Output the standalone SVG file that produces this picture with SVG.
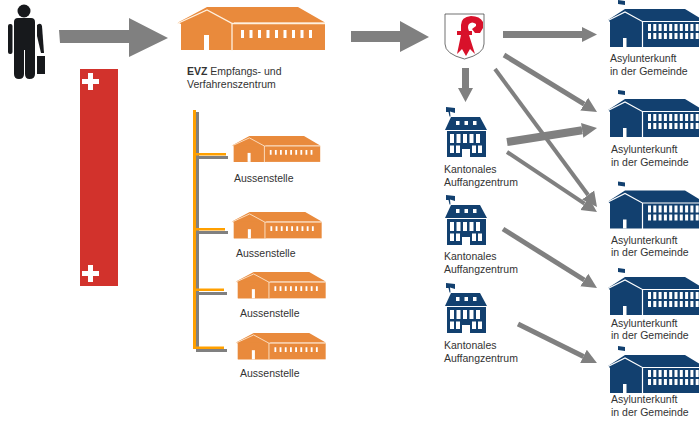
<svg xmlns="http://www.w3.org/2000/svg" width="699" height="422" viewBox="0 0 699 422">
<style>
text{font-family:"Liberation Sans",Arial,sans-serif;font-size:10.500px;fill:#333}
.arrow{fill:#808080}
.ln{stroke:#808080;fill:none;marker-end:url(#head)}
.or{fill:#e98a3c}
.bl{fill:#12406f}
.w{fill:#fff}
.cv{fill:none;stroke:#fff;stroke-width:1.200}
.cvo{fill:none;stroke:#fff1e0;stroke-width:1.300}
</style>
<defs>
<marker id="head" markerUnits="userSpaceOnUse" markerWidth="16" markerHeight="16" refX="0" refY="8" orient="auto"><path d="M0 .5L15 8L0 15.500Z" fill="#808080"/></marker>
<g id="barn">
<path class="or" d="M0 16.500L29 1H120L147 16.500H56V44H3V18Z"/>
<rect class="or" x="3" y="17" width="144" height="27"/>
<path class="cvo" d="M-.5 17.500L29 4L54 17.500V44.500M54 17.500H147"/>
<rect class="w" x="26" y="29" width="5" height="15"/>
<path class="w" d="M63 24h3v8h-3zM71.500 24h3v8h-3zM80 24h3v8h-3zM88.500 24h3v8h-3zM97 24h3v8h-3zM105.500 24h3v8h-3zM114 24h3v8h-3zM122.500 24h3v8h-3zM131 24h3v8h-3z"/>
</g>
<g id="asyl">
<path class="bl" d="M10 -9L17 -8V-4L10 -5Z"/>
<path class="bl" d="M0 11L17 0H77L95 11V38H2V13Z"/>
<path class="cv" d="M-1 12L17 3L34.500 12.500V38.500M34.500 12.500H100"/>
<rect class="w" x="15" y="29" width="3.500" height="9"/>
<path class="w" d="M40 15h3v7h-3zM45.300 15h3v7h-3zM50.600 15h3v7h-3zM55.900 15h3v7h-3zM61.200 15h3v7h-3zM66.500 15h3v7h-3zM71.800 15h3v7h-3zM77.100 15h3v7h-3zM82.400 15h3v7h-3zM87.700 15h3v7h-3zM40 24h3v6h-3zM45.300 24h3v6h-3zM50.600 24h3v6h-3zM55.900 24h3v6h-3zM61.200 24h3v6h-3zM66.500 24h3v6h-3zM71.800 24h3v6h-3zM77.100 24h3v6h-3zM82.400 24h3v6h-3zM87.700 24h3v6h-3z"/>
</g>
<g id="kant">
<path class="bl" d="M1 -10L10 -9V-4L5 -5.500L5.500 -.5H4.500L3.500 -5L1 -5Z"/>
<path class="bl" d="M6 0H35L42 13H0Z"/>
<rect class="bl" x="2" y="14" width="39" height="26"/>
<path class="w" d="M11 4h3.500v4h-3.500zM19.500 4h3.500v4h-3.500zM28 4h3.500v4h-3.500z"/>
<path class="w" d="M5 17h4v9h-4zM11.500 17h4v9h-4zM18 17h4v9h-4zM24.500 17h4v9h-4zM31 17h4v9h-4z"/>
<path class="w" d="M5 28.500h4v7.500h-4zM11 28.500h4v7.500h-4zM27 28.500h4v7.500h-4zM33 28.500h4v7.500h-4z"/>
<path class="w" d="M17 32h8v8h-8z"/>
</g>
</defs>
<rect width="699" height="422" fill="#fff"/>

<g id="connectors">
<path class="arrow" d="M59 30H129V18L168 38L129 57V43H60Z"/>
<path class="arrow" d="M351 31H400V21L429 37L400 52V42H351Z"/>
<path class="arrow" d="M462 68H469V88H473L465.500 102L458 88H462Z"/>
<line class="ln" x1="503" y1="34.500" x2="582" y2="34.500" stroke-width="7"/>
<line class="ln" x1="504" y1="55" x2="584.200" y2="104.200" stroke-width="5"/>
<line class="ln" x1="495" y1="69" x2="588.100" y2="195" stroke-width="4"/>
<line class="ln" x1="507" y1="142" x2="582.200" y2="130.300" stroke-width="8"/>
<line class="ln" x1="507" y1="152" x2="584.500" y2="203.700" stroke-width="4"/>
<line class="ln" x1="503" y1="229" x2="584.300" y2="280" stroke-width="5"/>
<line class="ln" x1="518" y1="324" x2="583.500" y2="356.400" stroke-width="5"/>
<g id="bracket">
<rect fill="#808080" x="196" y="112" width="3" height="239"/>
<rect fill="#808080" x="196" y="156" width="32" height="3"/>
<rect fill="#808080" x="196" y="231" width="32" height="3"/>
<rect fill="#808080" x="196" y="292" width="31" height="3"/>
<rect fill="#808080" x="196" y="349" width="31" height="3"/>
<rect fill="#ffa000" x="193" y="110" width="3" height="239"/>
<rect fill="#ffa000" x="193" y="153" width="33" height="2.500"/>
<rect fill="#ffa000" x="193" y="228" width="32" height="2.500"/>
<rect fill="#ffa000" x="193" y="288.500" width="31" height="2.500"/>
<rect fill="#ffa000" x="193" y="346.500" width="31" height="2.500"/>
</g>
</g>

<g id="person" fill="#17191c">
<circle cx="24" cy="11" r="6.500"/>
<path d="M14 22Q14 18 18 18H31Q35 18 35 22V74Q35 79 29.500 79Q25 79 25 74V50H24V74Q24 79 19 79Q14 79 14 74Z"/>
<rect x="8" y="24" width="4.500" height="30" rx="2"/>
<path d="M37 25Q41 22 42 26L44 53H41L37 36Z"/>
<rect x="37" y="56" width="8" height="18"/>
</g>

<g id="swiss">
<rect x="80" y="69" width="38" height="217" fill="#d2322c"/>
<path class="w" d="M88 73h5v6h6v5h-6v6h-5v-6h-6v-5h6z"/>
<path class="w" d="M88 265h5v6h6v5h-6v6h-5v-6h-6v-5h6z"/>
</g>

<g id="evz">
<use href="#barn" x="178" y="6"/>
<text x="187" y="75"><tspan font-weight="bold">EVZ</tspan> Empfangs- und</text>
<text x="187" y="88">Verfahrenszentrum</text>
</g>
<g id="aussen1"><use href="#barn" transform="translate(232 135.500) scale(.6)"/><text x="234" y="182">Aussenstelle</text></g>
<g id="aussen2"><use href="#barn" transform="translate(232 211.500) scale(.61)"/><text x="236" y="257">Aussenstelle</text></g>
<g id="aussen3"><use href="#barn" transform="translate(236 271.500) scale(.61)"/><text x="240" y="317">Aussenstelle</text></g>
<g id="aussen4"><use href="#barn" transform="translate(236 332.500) scale(.61)"/><text x="240" y="377">Aussenstelle</text></g>

<g id="wappen">
<path d="M445 14H484V44Q484 54 464.500 59Q445 54 445 44Z" fill="#fff" stroke="#333" stroke-width=".7"/>
<path fill="#d8112a" d="M461 31L461 25Q461 17 471 16Q480 16 483 22L483 28L480 33L475 33L472 29L476 26L476 24Q472 21 469 24Q467 27 469 31H472V35H469L475 54L470 49L466 56L462 49L457 54L461 35H457V31Z"/>
</g>

<g id="kant1"><use href="#kant" x="445" y="117"/><text x="444" y="173">Kantonales</text><text x="444" y="186">Auffangzentrum</text></g>
<g id="kant2"><use href="#kant" x="445" y="205"/><text x="444" y="260">Kantonales</text><text x="444" y="273">Auffangzentrum</text></g>
<g id="kant3"><use href="#kant" x="445" y="293"/><text x="444" y="349">Kantonales</text><text x="444" y="362">Auffangzentrum</text></g>

<g id="asyl1"><use href="#asyl" x="608" y="9"/><text x="610" y="62">Asylunterkunft</text><text x="610" y="75">in der Gemeinde</text></g>
<g id="asyl2"><use href="#asyl" x="608" y="99"/><text x="611" y="153">Asylunterkunft</text><text x="611" y="166">in der Gemeinde</text></g>
<g id="asyl3"><use href="#asyl" x="608" y="190.500"/><text x="611" y="244">Asylunterkunft</text><text x="611" y="256">in der Gemeinde</text></g>
<g id="asyl4"><use href="#asyl" x="608" y="277"/><text x="611" y="327">Asylunterkunft</text><text x="611" y="339">in der Gemeinde</text></g>
<g id="asyl5"><use href="#asyl" x="608" y="355"/><text x="611" y="403">Asylunterkunft</text><text x="611" y="416">in der Gemeinde</text></g>
</svg>
